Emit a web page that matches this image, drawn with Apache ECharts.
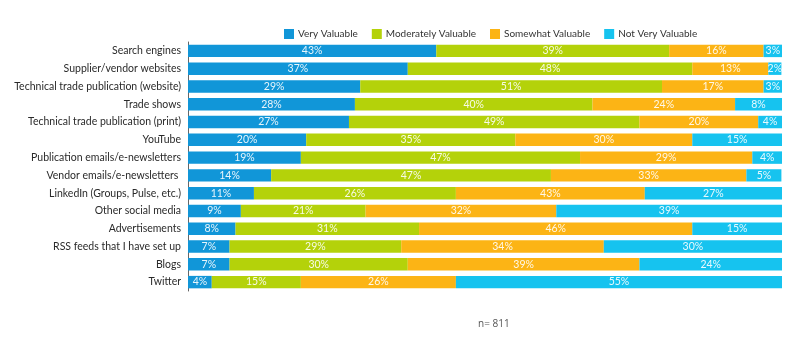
<!DOCTYPE html>
<html>
<head>
<meta charset="utf-8">
<script src="https://cdn.jsdelivr.net/npm/echarts@6/dist/echarts.min.js"></script>
<style>
  html, body { margin: 0; padding: 0; background: #fff; }
  #main { width: 800px; height: 353px; }
</style>
</head>
<body>
<div id="main"></div>
<script>
// categories, top to bottom
const categories = [
    'Search engines', 'Supplier/vendor websites', 'Technical trade publication (website)',
    'Trade shows', 'Technical trade publication (print)', 'YouTube',
    'Publication emails/e-newsletters', 'Vendor emails/e-newsletters ',
    'LinkedIn (Groups, Pulse, etc.)', 'Other social media', 'Advertisements',
    'RSS feeds that I have set up', 'Blogs', 'Twitter'
];
const seriesNames = ['Very Valuable', 'Moderately Valuable', 'Somewhat Valuable', 'Not Very Valuable'];

// bar lengths as drawn in the picture (%)
const veryValuable = [41.8, 37.0, 29.0, 28.1, 27.1, 19.9, 19.0, 14.0, 11.1, 8.9, 8.0, 7.0, 7.0, 4.0];
const moderatelyValuable = [39.2, 47.9, 50.8, 40.0, 48.9, 35.2, 47.0, 47.1, 34.0, 21.0, 30.9, 28.9, 30.0, 15.0];
const somewhatValuable = [15.9, 12.8, 17.1, 24.0, 20.0, 29.8, 29.0, 32.9, 31.8, 32.1, 46.0, 34.1, 39.0, 26.1];
const notVeryValuable = [3.1, 2.2, 3.1, 8.0, 4.0, 15.1, 5.1, 5.9, 23.1, 38.0, 15.1, 30.0, 24.0, 54.9];

// percentages printed on the bars
const veryLabels = [43, 37, 29, 28, 27, 20, 19, 14, 11, 9, 8, 7, 7, 4];
const moderatelyLabels = [39, 48, 51, 40, 49, 35, 47, 47, 26, 21, 31, 29, 30, 15];
const somewhatLabels = [16, 13, 17, 24, 20, 30, 29, 33, 43, 32, 46, 34, 39, 26];
const notVeryLabels = [3, 2, 3, 8, 4, 15, 4, 5, 27, 39, 15, 30, 24, 55];

const colors = ['#1196d8', '#b4d20a', '#fcb415', '#16c3ef'];
const font = 'Lato';

function makeSeries(idx, values, labels) {
    return {
        name: seriesNames[idx],
        type: 'bar',
        stack: 'total',
        barCategoryGap: '30%',
        itemStyle: { color: colors[idx] },
        label: {
            show: true,
            position: 'inside',
            color: 'rgba(255,255,255,0.9)',
            fontFamily: font,
            fontSize: 10.5,
            formatter: function (p) { return labels[p.dataIndex] + '%'; }
        },
        data: values
    };
}

const chart = echarts.init(document.getElementById('main'));
chart.setOption({
    animation: false,
    textStyle: { fontFamily: font },
    legend: {
        left: 279,
        top: 24,
        itemWidth: 10,
        itemHeight: 10,
        itemGap: 14,
        icon: 'rect',
        textStyle: { color: '#333', fontSize: 10, fontFamily: font, padding: [0, 0, 0, -1] },
        data: seriesNames
    },
    grid: { left: 188, right: 18, top: 42, height: 249 },
    xAxis: {
        type: 'value',
        min: 0,
        max: 100,
        show: false
    },
    yAxis: {
        type: 'category',
        inverse: true,
        data: categories,
        axisTick: { show: false },
        axisLine: { show: true, lineStyle: { color: '#666', width: 1 } },
        axisLabel: { color: '#2a2a2a', fontSize: 10.5, fontFamily: font, margin: 7 }
    },
    graphic: [{
        type: 'text',
        left: 478,
        top: 319,
        style: { text: 'n= 811', fill: '#555', font: '10px "Open Sans"' }
    }],
    series: [
        makeSeries(0, veryValuable, veryLabels),
        makeSeries(1, moderatelyValuable, moderatelyLabels),
        makeSeries(2, somewhatValuable, somewhatLabels),
        makeSeries(3, notVeryValuable, notVeryLabels)
    ]
});
</script>
</body>
</html>
